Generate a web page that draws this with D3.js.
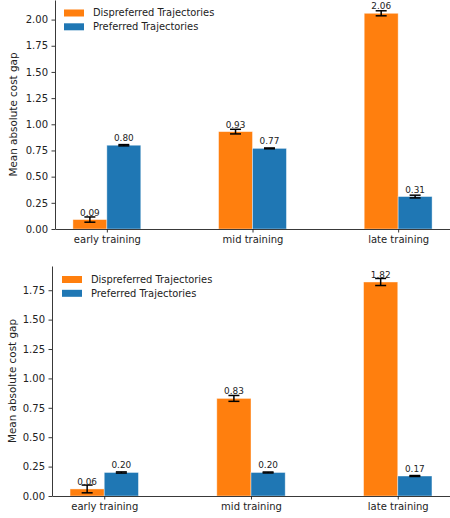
<!doctype html>
<html>
<head>
<meta charset="utf8">
<title>Cost gap bars</title>
<script src="https://cdn.jsdelivr.net/npm/d3@7"></script>
<style>
  body { margin: 0; background: #fff; }
  svg text { font-family: "DejaVu Sans", sans-serif; fill: #222; }
</style>
</head>
<body>
<div id="board"></div>
<script>
"use strict";
const categories = ["early training", "mid training", "late training"];
const seriesNames = ["Dispreferred Trajectories", "Preferred Trajectories"];
const seriesColors = ["#ff7f0e", "#1f77b4"];

// top panel
const topDispref = [0.09, 0.93, 2.06];
const topDisprefErr = [0.025, 0.022, 0.024];
const topPref = [0.80, 0.77, 0.31];
const topPrefErr = [0.006, 0.004, 0.013];
const topTicks = [0, 0.25, 0.5, 0.75, 1.0, 1.25, 1.5, 1.75, 2.0];

// bottom panel
const botDispref = [0.06, 0.83, 1.82];
const botDisprefErr = [0.033, 0.025, 0.03];
const botPref = [0.20, 0.20, 0.17];
const botPrefErr = [0.005, 0.004, 0.004];
const botTicks = [0, 0.25, 0.5, 0.75, 1.0, 1.25, 1.5, 1.75];

const W = 450, H = 518;
const barW = 0.233;
const capHalf = 5.5;

const svg = d3.select("#board").append("svg")
    .attr("width", W).attr("height", H);

function drawPanel(p){
    const x = d3.scaleLinear().domain([-0.356, 2.356]).range([p.left, 450]);
    const y = d3.scaleLinear().domain([0, p.ymax]).range([p.bottom, p.top]);
    const g = svg.append("g");

    const series = [
        {vals: p.disp, errs: p.dispErr, off: -barW, color: seriesColors[0]},
        {vals: p.pref, errs: p.prefErr, off: 0, color: seriesColors[1]}
    ];

    series.forEach(s => {
        const rows = s.vals.map((v, i) => ({i: i, v: v, e: s.errs[i]}));
        g.selectAll(null).data(rows).enter().append("rect")
            .attr("x", d => x(d.i + s.off))
            .attr("width", x(barW) - x(0))
            .attr("y", d => y(d.v))
            .attr("height", d => y(0) - y(d.v))
            .attr("fill", s.color)
            .attr("stroke", "#fff").attr("stroke-opacity", 0.5).attr("stroke-width", 0.8);

        // error bars
        const eb = g.selectAll(null).data(rows).enter().append("g")
            .attr("stroke", "#000").attr("stroke-width", 1.5);
        const cx = d => x(d.i + s.off + barW / 2);
        eb.append("line").attr("x1", cx).attr("x2", cx)
            .attr("y1", d => y(d.v - d.e)).attr("y2", d => y(d.v + d.e));
        eb.append("line").attr("x1", d => cx(d) - capHalf).attr("x2", d => cx(d) + capHalf)
            .attr("y1", d => y(d.v - d.e)).attr("y2", d => y(d.v - d.e));
        eb.append("line").attr("x1", d => cx(d) - capHalf).attr("x2", d => cx(d) + capHalf)
            .attr("y1", d => y(d.v + d.e)).attr("y2", d => y(d.v + d.e));

        g.selectAll(null).data(rows).enter().append("text")
            .attr("x", cx).attr("y", d => y(d.v) - 4)
            .attr("text-anchor", "middle").style("font-size", "8.9px")
            .text(d => d3.format(".2f")(d.v));
    });

    const yAxis = d3.axisLeft(y).tickValues(p.ticks).tickFormat(d3.format(".2f"))
        .tickSize(3.5).tickPadding(3.5).tickSizeOuter(0);
    const ya = g.append("g").attr("transform", `translate(${p.left},0)`).call(yAxis);
    const xAxis = d3.axisBottom(x).tickValues([0, 1, 2]).tickFormat(i => categories[i])
        .tickSize(3.5).tickPadding(3.5).tickSizeOuter(0);
    const xa = g.append("g").attr("transform", `translate(0,${p.bottom})`).call(xAxis);
    [ya, xa].forEach(a => {
        a.selectAll("path, line").attr("stroke", "#222").attr("stroke-width", 0.9);
        a.selectAll("text").style("font-size", "10px").attr("fill", "#222");
        a.attr("font-family", null).attr("font-size", null);
    });

    g.append("text")
        .attr("transform", `translate(${p.labelX},${(p.top + p.bottom) / 2}) rotate(-90)`)
        .attr("text-anchor", "middle").attr("dy", "0.35em")
        .style("font-size", "10.4px")
        .text("Mean absolute cost gap");

    // legend
    seriesNames.forEach((name, k) => {
        const ly = p.legY + k * 13.8;
        g.append("rect").attr("x", p.legX).attr("y", ly - 3.5)
            .attr("width", 20).attr("height", 7).attr("fill", seriesColors[k]);
        g.append("text").attr("x", p.legX + 29).attr("y", ly).attr("dy", "0.35em")
            .style("font-size", "9.9px").text(name);
    });
}

drawPanel({left: 55, top: 0, bottom: 229, ymax: 2.187, ticks: topTicks,
    disp: topDispref, dispErr: topDisprefErr, pref: topPref, prefErr: topPrefErr,
    labelX: 13, legX: 64, legY: 13});
drawPanel({left: 52, top: 266, bottom: 496, ymax: 1.956, ticks: botTicks,
    disp: botDispref, dispErr: botDisprefErr, pref: botPref, prefErr: botPrefErr,
    labelX: 12, legX: 62, legY: 279.5});
</script>
</body>
</html>
